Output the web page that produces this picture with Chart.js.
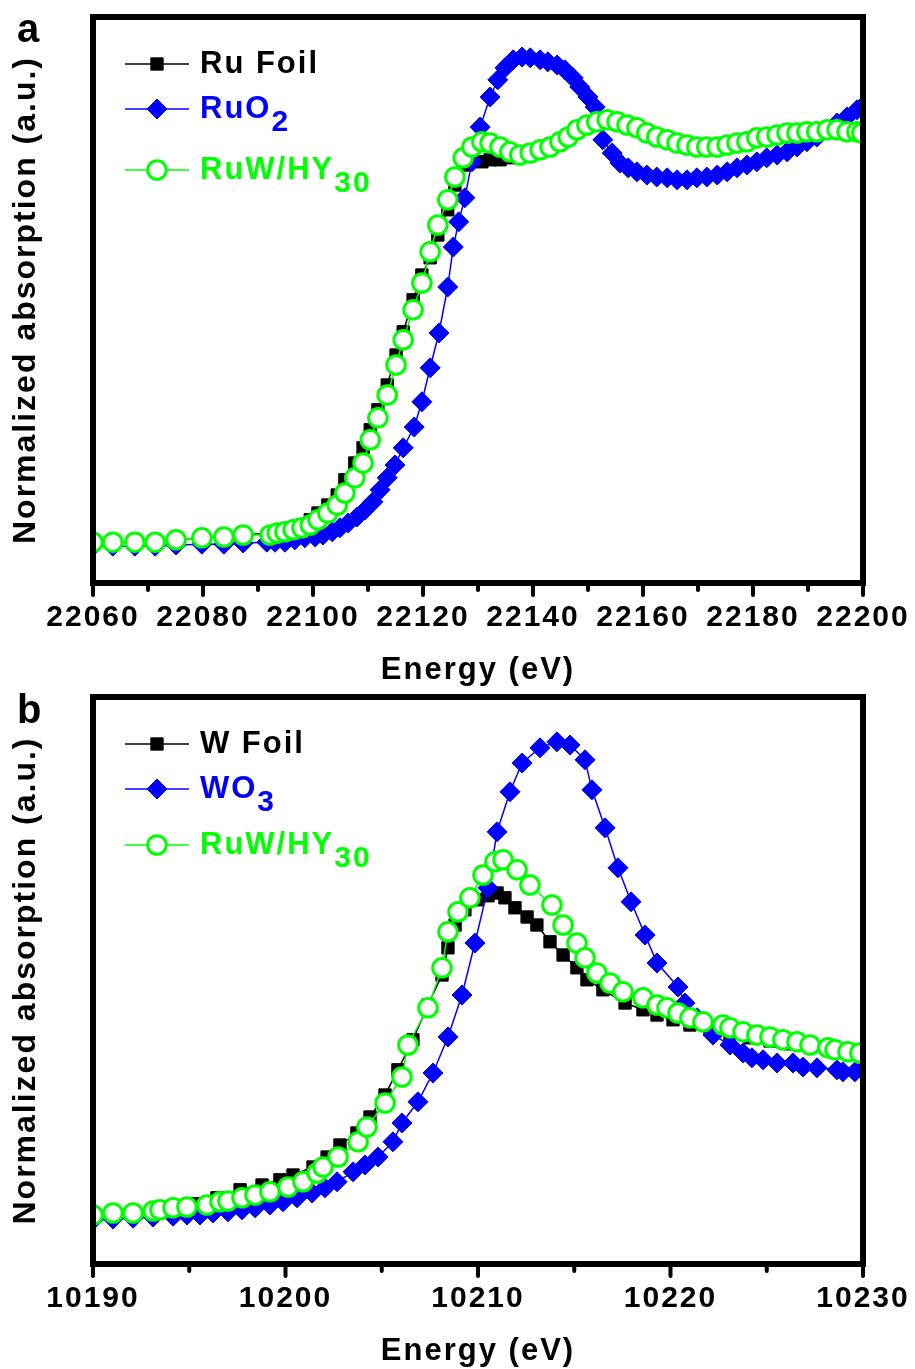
<!DOCTYPE html>
<html><head><meta charset="utf-8">
<script src="https://cdn.jsdelivr.net/npm/chart.js@4.4.1/dist/chart.umd.min.js"></script>
<style>
html,body{margin:0;padding:0;background:#fff;}
#wrap{position:relative;width:915px;height:1369px;overflow:hidden;background:#fff;}
canvas{position:absolute;left:0;}
#ca{top:0;}
#cb{top:684px;}
</style></head><body>
<div id="wrap"><canvas id="ca" width="915" height="700"></canvas><canvas id="cb" width="915" height="685"></canvas></div>
<script>
// ---------------- Panel a : Ru K-edge ----------------
const namesA = ['Ru Foil', 'RuO2', 'RuW/HY30'];
const ticksA = [22060, 22080, 22100, 22120, 22140, 22160, 22180, 22200];
const energyA_RuW = [22060.0, 22063.6, 22067.6, 22071.3, 22075.1, 22079.8, 22083.8, 22087.3, 22092.2, 22093.5, 22094.9, 22096.4, 22098.0, 22099.5, 22100.9, 22102.7, 22104.4, 22105.8, 22107.6, 22109.1, 22110.4, 22111.8, 22113.5, 22115.1, 22116.4, 22118.2, 22119.8, 22121.3, 22122.7, 22124.5, 22125.8, 22127.3, 22128.9, 22130.7, 22132.2, 22134.0, 22135.8, 22137.6, 22139.5, 22141.3, 22143.1, 22144.9, 22146.4, 22148.0, 22149.8, 22151.6, 22153.5, 22155.3, 22157.1, 22158.9, 22160.7, 22162.5, 22164.4, 22166.2, 22168.0, 22169.8, 22171.6, 22173.5, 22175.3, 22177.1, 22178.9, 22180.7, 22182.5, 22184.4, 22186.2, 22188.0, 22189.8, 22191.6, 22193.5, 22195.3, 22197.1, 22198.9, 22199.8];
const absA_RuW = [-0.003,-0.003,-0.003,-0.003,0.003,0.008,0.010,0.015, 0.015,0.020,0.023,0.028,0.033,0.040,0.053,0.070,0.090,0.120,0.158,0.195,0.253, 0.308,0.365,0.440,0.503,0.578,0.645,0.723,0.790,0.853, 0.910,0.958,0.985,0.998,0.995,0.985,0.973,0.965,0.970,0.978, 0.985,0.998,1.010,1.028,1.040,1.048,1.053,1.048,1.040,1.033, 1.020,1.010,1.003,0.995,0.990,0.985,0.985,0.985,0.990,0.995, 0.998,1.008,1.010,1.015,1.020,1.020,1.023,1.023,1.028,1.028, 1.023,1.023,1.020];
const energyA_RuFoil = [22060.0, 22063.6, 22067.6, 22071.3, 22075.1, 22079.8, 22083.8, 22087.3, 22092.2, 22093.5, 22094.9, 22096.4, 22098.0, 22099.5, 22100.9, 22102.7, 22104.4, 22105.8, 22107.6, 22109.1, 22110.4, 22111.8, 22113.5, 22115.1, 22116.4, 22118.2, 22119.8, 22121.3, 22122.7, 22124.5, 22125.8, 22127.3, 22128.9, 22130.7, 22132.2, 22134.0, 22135.8, 22137.6, 22139.5, 22141.3, 22143.1, 22144.9, 22146.4, 22148.0, 22149.8, 22151.6, 22153.5, 22155.3, 22157.1, 22158.9, 22160.7, 22162.5, 22164.4, 22166.2, 22168.0, 22169.8, 22171.6, 22173.5, 22175.3, 22177.1, 22178.9, 22180.7, 22182.5, 22184.4, 22186.2, 22188.0, 22189.8, 22191.6, 22193.5, 22195.3, 22197.1, 22198.9, 22199.8];
const absA_RuFoil = [-0.003,-0.003,-0.003,-0.003,0.003,0.008,0.010,0.015, 0.020,0.023,0.028,0.033,0.040,0.053,0.070,0.090,0.115,0.153,0.195,0.233,0.278, 0.328,0.390,0.465,0.523,0.603,0.665,0.708,0.765,0.828, 0.890,0.940,0.953,0.948,0.953,0.953,0.958,0.963,0.968,0.976, 0.985,0.998,1.010,1.028,1.040,1.048,1.053,1.048,1.040,1.033, 1.020,1.010,1.003,0.995,0.990,0.985,0.985,0.985,0.990,0.995, 0.998,1.008,1.010,1.015,1.020,1.020,1.023,1.023,1.028,1.028, 1.023,1.023,1.020];
const energyA_RuO2 = [22060.0, 22063.6, 22067.6, 22071.3, 22075.1, 22079.8, 22083.8, 22087.3, 22091.6, 22093.1, 22094.9, 22096.7, 22098.5, 22100.4, 22101.8, 22103.5, 22104.9, 22106.4, 22108.0, 22109.5, 22110.9, 22112.2, 22113.5, 22114.9, 22116.4, 22118.4, 22119.8, 22121.3, 22122.9, 22124.5, 22125.5, 22126.5, 22127.6, 22128.9, 22130.4, 22132.2, 22133.6, 22134.9, 22136.4, 22138.0, 22139.5, 22141.3, 22142.7, 22144.4, 22145.8, 22147.3, 22148.5, 22150.0, 22151.3, 22152.0, 22152.7, 22154.4, 22155.8, 22157.3, 22158.9, 22160.7, 22162.5, 22164.4, 22166.2, 22168.0, 22169.8, 22171.6, 22173.5, 22175.3, 22177.1, 22178.9, 22180.7, 22182.5, 22184.4, 22186.2, 22188.0, 22189.8, 22191.6, 22193.5, 22195.3, 22197.1, 22198.9, 22199.8];
const absA_RuO2 = [-0.013,-0.013,-0.013,-0.013,-0.010,-0.008,-0.008,-0.005, -0.003,-0.003,-0.003,0.003,0.008,0.010,0.015,0.023,0.033,0.045,0.060,0.078, 0.098,0.128,0.158,0.190,0.233,0.285,0.348,0.433,0.520,0.635, 0.735,0.798,0.858,0.948,1.035,1.110,1.153,1.183,1.203,1.210, 1.208,1.203,1.198,1.190,1.178,1.158,1.135,1.110,1.085,1.048, 1.003,0.970,0.945,0.933,0.923,0.915,0.910,0.908,0.903,0.903, 0.908,0.910,0.915,0.923,0.933,0.940,0.948,0.958,0.965,0.973, 0.985,0.998,1.010,1.028,1.045,1.060,1.078,1.085];

// ---------------- Panel b : W L3-edge ----------------
const namesB = ['W Foil', 'WO3', 'RuW/HY30'];
const ticksB = [10190, 10200, 10210, 10220, 10230];
const energyB_WFoil = [10190.00, 10191.04, 10192.08, 10193.12, 10194.16, 10195.30, 10196.44, 10197.64, 10198.78, 10199.71, 10200.39, 10201.43, 10202.16, 10202.83, 10203.71, 10204.39, 10205.17, 10205.84, 10206.62, 10207.40, 10208.13, 10208.44, 10208.81, 10209.32, 10209.95, 10210.52, 10210.99, 10211.40, 10211.92, 10212.55, 10213.06, 10213.74, 10214.42, 10215.14, 10215.66, 10216.49, 10217.64, 10218.57, 10219.30, 10220.13, 10221.01, 10222.05, 10223.09, 10224.13, 10225.17, 10226.21, 10227.25, 10228.29, 10229.32, 10229.95];
const absB_WFoil = [0.000,0.005,0.008,0.013,0.018,0.028,0.043,0.063,0.075,0.088, 0.100,0.120,0.145,0.175,0.205,0.245,0.300,0.363,0.438,0.525, 0.600,0.668,0.725,0.763,0.788,0.798,0.805,0.793,0.768,0.745, 0.725,0.683,0.650,0.618,0.588,0.563,0.530,0.513,0.500,0.488, 0.475,0.463,0.453,0.443,0.435,0.428,0.420,0.413,0.405,0.403];
const energyB_WO3 = [10190.00, 10191.04, 10192.08, 10193.12, 10194.16, 10194.88, 10195.56, 10196.23, 10197.01, 10197.74, 10198.42, 10199.19, 10199.87, 10200.60, 10201.38, 10202.05, 10202.68, 10203.51, 10204.13, 10204.81, 10205.58, 10206.05, 10206.88, 10207.66, 10208.44, 10209.17, 10209.84, 10210.52, 10210.99, 10211.66, 10212.29, 10213.22, 10214.10, 10214.78, 10215.56, 10215.92, 10216.60, 10217.27, 10217.95, 10218.68, 10219.30, 10220.39, 10220.75, 10221.38, 10222.21, 10223.09, 10223.77, 10224.23, 10224.81, 10225.53, 10226.36, 10226.88, 10227.61, 10228.65, 10228.96, 10229.58, 10229.95];
const absB_WO3 = [-0.013,-0.010,-0.008,-0.005,-0.003,0.000,0.000,0.005,0.008,0.013, 0.018,0.025,0.033,0.043,0.055,0.068,0.083,0.108,0.125,0.145, 0.183,0.230,0.283,0.355,0.445,0.550,0.680,0.818,0.958,1.058, 1.130,1.168,1.183,1.175,1.138,1.063,0.968,0.868,0.783,0.700, 0.630,0.570,0.530,0.493,0.450,0.425,0.405,0.393,0.388,0.380, 0.380,0.370,0.368,0.363,0.358,0.358,0.363];
const energyB_RuW = [10190.00, 10191.04, 10192.08, 10193.12, 10193.48, 10194.16, 10194.88, 10195.92, 10196.60, 10197.01, 10197.74, 10198.42, 10199.19, 10200.13, 10200.91, 10201.64, 10201.95, 10202.73, 10203.77, 10204.23, 10205.17, 10206.05, 10206.36, 10207.40, 10208.13, 10208.44, 10208.96, 10209.58, 10210.26, 10210.88, 10211.30, 10212.03, 10212.70, 10213.84, 10214.42, 10215.14, 10215.56, 10216.18, 10216.86, 10217.53, 10218.57, 10219.30, 10219.82, 10220.39, 10221.01, 10221.69, 10222.73, 10223.09, 10223.77, 10224.49, 10225.17, 10225.84, 10226.57, 10227.25, 10228.18, 10228.55, 10229.22, 10229.84];
const absB_RuW = [0.000,0.005,0.005,0.010,0.013,0.018,0.020,0.025,0.033,0.035, 0.043,0.050,0.058,0.070,0.083,0.105,0.120,0.145,0.183,0.220, 0.280,0.345,0.425,0.518,0.618,0.708,0.758,0.793,0.850,0.883, 0.888,0.863,0.825,0.775,0.725,0.680,0.643,0.605,0.580,0.558, 0.543,0.525,0.518,0.505,0.493,0.483,0.475,0.468,0.458,0.450, 0.445,0.438,0.433,0.425,0.418,0.413,0.408,0.405];

// ---------------- styling ----------------
const FAMILY = "'Liberation Sans', Arial, sans-serif";
const BLACK = '#000000', BLUE = '#0000ff', GREEN = '#00ff00';

function pts(xs, ys) { return xs.map((x, i) => ({x: x, y: ys[i]})); }

function makeDatasets(names, series) {
  const styles = [
    {color: BLACK, pointStyle: 'rect', radius: 8.7, bg: BLACK, bw: 1, order: 3},
    {color: BLUE, pointStyle: 'rectRot', radius: 10, bg: BLUE, bw: 1, order: 2},
    {color: GREEN, pointStyle: 'circle', radius: 9.3, bg: '#ffffff', bw: 3, order: 1}
  ];
  return names.map((n, i) => ({
    label: n,
    data: pts(series[i][0], series[i][1]),
    borderColor: styles[i].color,
    backgroundColor: styles[i].bg,
    borderWidth: 1.5,
    pointStyle: styles[i].pointStyle,
    pointRadius: styles[i].radius,
    pointBorderWidth: styles[i].bw,
    pointBorderColor: styles[i].color,
    pointBackgroundColor: styles[i].bg,
    tension: 0,
    order: styles[i].order,
    clip: 0
  }));
}

function drawMarker(ctx, ds, x, y) {
  const r = ds.pointRadius;
  ctx.save();
  ctx.lineWidth = ds.pointBorderWidth;
  ctx.strokeStyle = ds.pointBorderColor;
  ctx.fillStyle = ds.pointBackgroundColor;
  ctx.beginPath();
  if (ds.pointStyle === 'rect') {
    const h = r * Math.SQRT1_2;
    ctx.rect(x - h, y - h, 2 * h, 2 * h);
  } else if (ds.pointStyle === 'rectRot') {
    ctx.moveTo(x, y - r); ctx.lineTo(x + r, y); ctx.lineTo(x, y + r); ctx.lineTo(x - r, y); ctx.closePath();
  } else {
    ctx.arc(x, y, r, 0, Math.PI * 2);
  }
  ctx.fill(); ctx.stroke();
  ctx.restore();
}

const deco = {
  id: 'deco',
  beforeDraw(chart) { chart.ctx.letterSpacing = '2px'; },
  beforeDatasetsDraw(chart) { chart.ctx.letterSpacing = '0px'; },
  afterDatasetsDraw(chart, args, o) {
    const ctx = chart.ctx, a = chart.chartArea, xs = chart.scales.x;
    ctx.save();
    // frame
    ctx.lineWidth = o.frameWidth; ctx.strokeStyle = BLACK;
    ctx.strokeRect(a.left, a.top, a.right - a.left, a.bottom - a.top);
    // ticks (major + minor, outward)
    ctx.lineCap = 'round'; ctx.lineWidth = 4;
    const n = Math.round((xs.max - xs.min) / o.minorStep);
    for (let i = 0; i <= n; i++) {
      const v = xs.min + i * o.minorStep;
      const px = xs.getPixelForValue(v);
      const major = i % 2 === 0;
      ctx.beginPath(); ctx.moveTo(px, a.bottom); ctx.lineTo(px, a.bottom + (major ? o.majorLen : o.minorLen)); ctx.stroke();
    }
    // legend
    ctx.lineCap = 'butt';
    chart.data.datasets.forEach((ds, i) => {
      const y = o.legendY[i];
      ctx.strokeStyle = ds.borderColor; ctx.lineWidth = 1.5;
      ctx.beginPath(); ctx.moveTo(o.lx0, y); ctx.lineTo(o.lx1, y); ctx.stroke();
      drawMarker(ctx, ds, (o.lx0 + o.lx1) / 2, y);
      const m = /^(.*?)(\d+)$/.exec(ds.label);
      const main = m ? m[1] : ds.label, sub = m ? m[2] : '';
      ctx.letterSpacing = o.legendSpacing + 'px';
      ctx.font = 'bold ' + o.legendFont + 'px ' + FAMILY;
      ctx.fillStyle = ds.borderColor; ctx.textAlign = 'left'; ctx.textBaseline = 'alphabetic';
      ctx.fillText(main, o.tx, y + o.baseOff);
      if (sub) {
        const w = ctx.measureText(main).width;
        ctx.font = 'bold ' + o.subFont + 'px ' + FAMILY;
        ctx.fillText(sub, o.tx + w, y + o.baseOff + o.subShift);
      }
    });
    // panel label
    ctx.letterSpacing = '0px';
    ctx.font = 'bold 40px ' + FAMILY;
    ctx.fillStyle = BLACK; ctx.textAlign = 'left'; ctx.textBaseline = 'alphabetic';
    ctx.fillText(o.panel, o.panelX, o.panelY);
    ctx.restore();
  }
};

function makeChart(canvasId, cfg) {
  const tickVals = cfg.ticks;
  return new Chart(document.getElementById(canvasId), {
    type: 'line',
    data: {datasets: makeDatasets(cfg.names, cfg.series)},
    plugins: [deco],
    options: {
      responsive: false, animation: false, devicePixelRatio: 1, events: [],
      layout: {padding: {left: 0, top: cfg.top, right: 52, bottom: 0}},
      plugins: {
        legend: {display: false}, tooltip: {enabled: false},
        deco: {
          frameWidth: 6, minorStep: cfg.minorStep, majorLen: 12, minorLen: 7,
          legendY: cfg.legendY, lx0: 125, lx1: 189, tx: 200, baseOff: 9,
          legendFont: 31, subFont: 30, subShift: 13, legendSpacing: 2,
          panel: cfg.panel, panelX: 17, panelY: cfg.panelY
        }
      },
      scales: {
        x: {
          type: 'linear', position: 'bottom',
          min: tickVals[0], max: tickVals[tickVals.length - 1],
          afterBuildTicks: s => { s.ticks = tickVals.map(v => ({value: v})); },
          ticks: {font: {family: FAMILY, size: 30, weight: 'bold', lineHeight: 1}, color: BLACK, padding: 10, maxRotation: 0, autoSkip: false, callback: v => String(v)},
          grid: {display: true, drawOnChartArea: false, drawTicks: true, tickLength: 10, color: 'rgba(0,0,0,0)', tickColor: 'rgba(0,0,0,0)'},
          border: {display: false},
          title: {display: true, text: 'Energy (eV)', color: BLACK, font: {family: FAMILY, size: 31, weight: 'bold', lineHeight: 1}, padding: {top: 0, bottom: cfg.xTitlePad}},
          afterFit: s => { s.height = cfg.xHeight; }
        },
        y: {
          type: 'linear', min: cfg.ymin, max: cfg.ymax,
          ticks: {display: false}, grid: {display: false}, border: {display: false},
          title: {display: true, text: 'Normalized absorption (a.u.)', color: BLACK, font: {family: FAMILY, size: 32, weight: 'bold', lineHeight: 1}, padding: {top: 10, bottom: 0}},
          afterFit: s => { s.width = 93; }
        }
      }
    }
  });
}

makeChart('ca', {
  names: namesA, ticks: ticksA, minorStep: 10,
  series: [[energyA_RuFoil, absA_RuFoil], [energyA_RuO2, absA_RuO2], [energyA_RuW, absA_RuW]],
  top: 17, xHeight: 117, xTitlePad: 14, ymin: -0.105, ymax: 1.31,
  legendY: [64, 109, 170], panel: 'a', panelY: 42
});
makeChart('cb', {
  names: namesB, ticks: ticksB, minorStep: 5,
  series: [[energyB_WFoil, absB_WFoil], [energyB_WO3, absB_WO3], [energyB_RuW, absB_RuW]],
  top: 13, xHeight: 105, xTitlePad: 2.5, ymin: -0.1225, ymax: 1.295,
  legendY: [60, 105, 161], panel: 'b', panelY: 39
});
</script>
</body></html>
